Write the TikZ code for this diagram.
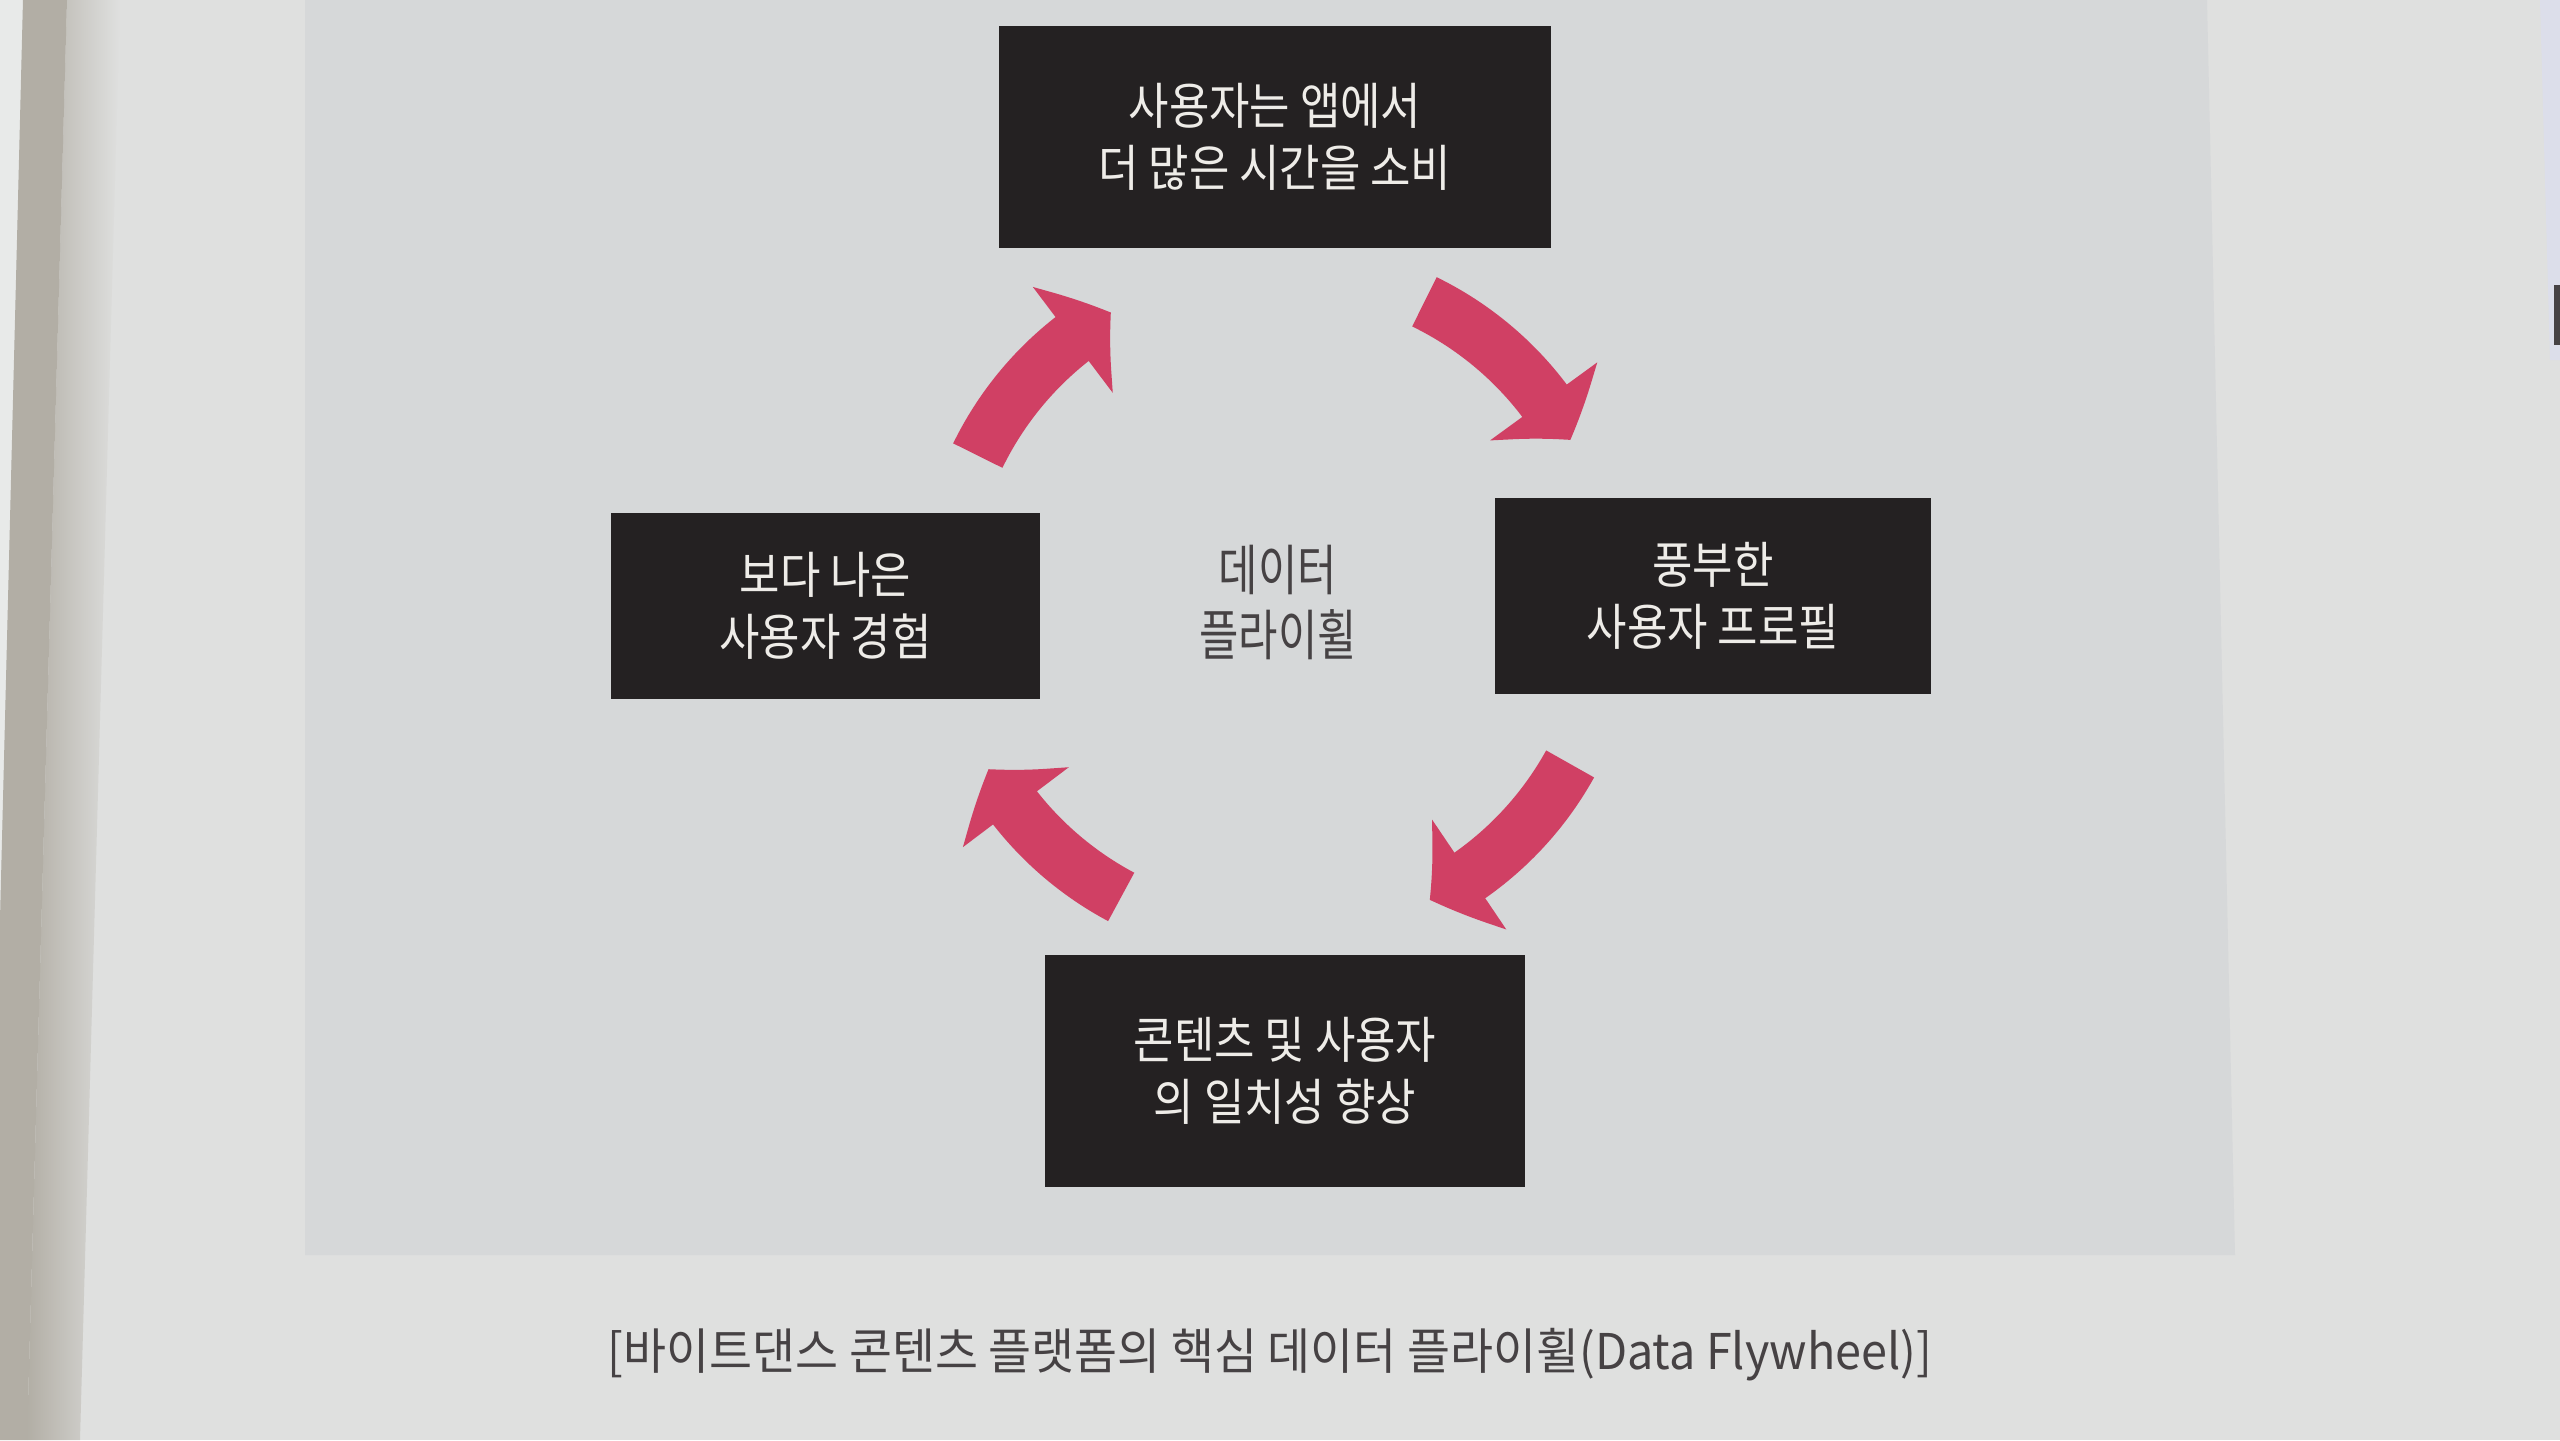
\documentclass[tikz,border=0pt]{standalone}
\usepackage{fontspec}
\setmainfont{Noto Sans CJK KR}
\newfontfamily\boxfont[FakeStretch=0.88]{Noto Sans CJK KR}
\newfontfamily\hubfont[FakeStretch=0.78]{Noto Sans CJK KR}
\newfontfamily\capfont[FakeStretch=0.95]{Noto Sans CJK KR}
\usetikzlibrary{positioning,arrows.meta,bending}
\definecolor{carta}{RGB}{223,224,223}
\definecolor{velo}{RGB}{214,216,217}
\definecolor{ombra}{RGB}{178,174,165}
\definecolor{chiaro}{RGB}{232,234,233}
\definecolor{nero}{RGB}{36,33,34}
\definecolor{bianco}{RGB}{238,236,232}
\definecolor{rosa}{RGB}{208,64,100}
\definecolor{grigio}{RGB}{70,66,68}
\tikzset{
  blocco/.style = {rectangle, fill=nero, text=bianco, align=center, inner sep=0, font=\boxfont\fontsize{14.2}{17.5}\selectfont},
  giro/.style   = {draw=rosa, line width=5.5mm, -{Triangle[length=4.7mm, width=13mm, bend]}},
  et/.style     = {align=center, text=grigio, font=\hubfont\fontsize{15.6}{18.5}\selectfont},
  didas/.style  = {text=grigio, font=\capfont\fontsize{14}{16}\selectfont}
}

\begin{document}
\begin{tikzpicture}
  \useasboundingbox (0,0) rectangle (25.6,-14.4);
  % pagina fotografata
  \fill[carta] (0,0) rectangle (25.6,-14.4);
  \fill[velo] (3.05,0) -- (22.07,0) -- (22.35,-12.55) -- (3.05,-12.55) -- cycle;
  \fill[chiaro] (0,0) -- (0.23,0) -- (0,-9.2) -- cycle;
  \shade[left color=ombra, right color=carta] (0.67,0) -- (1.2,0) -- (0.8,-14.4) -- (0.27,-14.4) -- cycle;
  \fill[ombra] (0.23,0) -- (0.67,0) -- (0.27,-14.4) -- (0,-14.4) -- (0,-9.2) -- cycle;
  \fill[chiaro!95!blue] (25.40,0) -- (25.6,0) -- (25.6,-3.6) -- (25.50,-3.6) -- cycle;
  \fill[grigio] (25.54,-2.85) rectangle (25.6,-3.45);

  \node[et] (hub) at (12.78,-6.02) {데이터\\플라이휠};

  \node[blocco, minimum width=55.2mm, minimum height=22.2mm] (top)    at (12.75,-1.37) {사용자는 앱에서\\더 많은 시간을 소비};
  \node[blocco, minimum width=43.6mm, minimum height=19.6mm] (right)  at (17.13,-5.96) {풍부한\\사용자 프로필};
  \node[blocco, minimum width=48.0mm, minimum height=23.2mm] (bottom) at (12.85,-10.71) {콘텐츠 및 사용자\\의 일치성 향상};
  \node[blocco, minimum width=42.9mm, minimum height=18.6mm] (left)   at (8.255,-6.06) {보다 나은\\사용자 경험};

  \foreach \a/\b in {154/120, 64/29, -29/-63, 242/210}
    \draw[giro] ([shift={(\a:3.34)}]hub.center) arc[start angle=\a, end angle=\b, radius=3.34];

  \node[didas] (caption) at (12.70,-13.55) {[바이트댄스 콘텐츠 플랫폼의 핵심 데이터 플라이휠(Data Flywheel)]};
\end{tikzpicture}
\end{document}
